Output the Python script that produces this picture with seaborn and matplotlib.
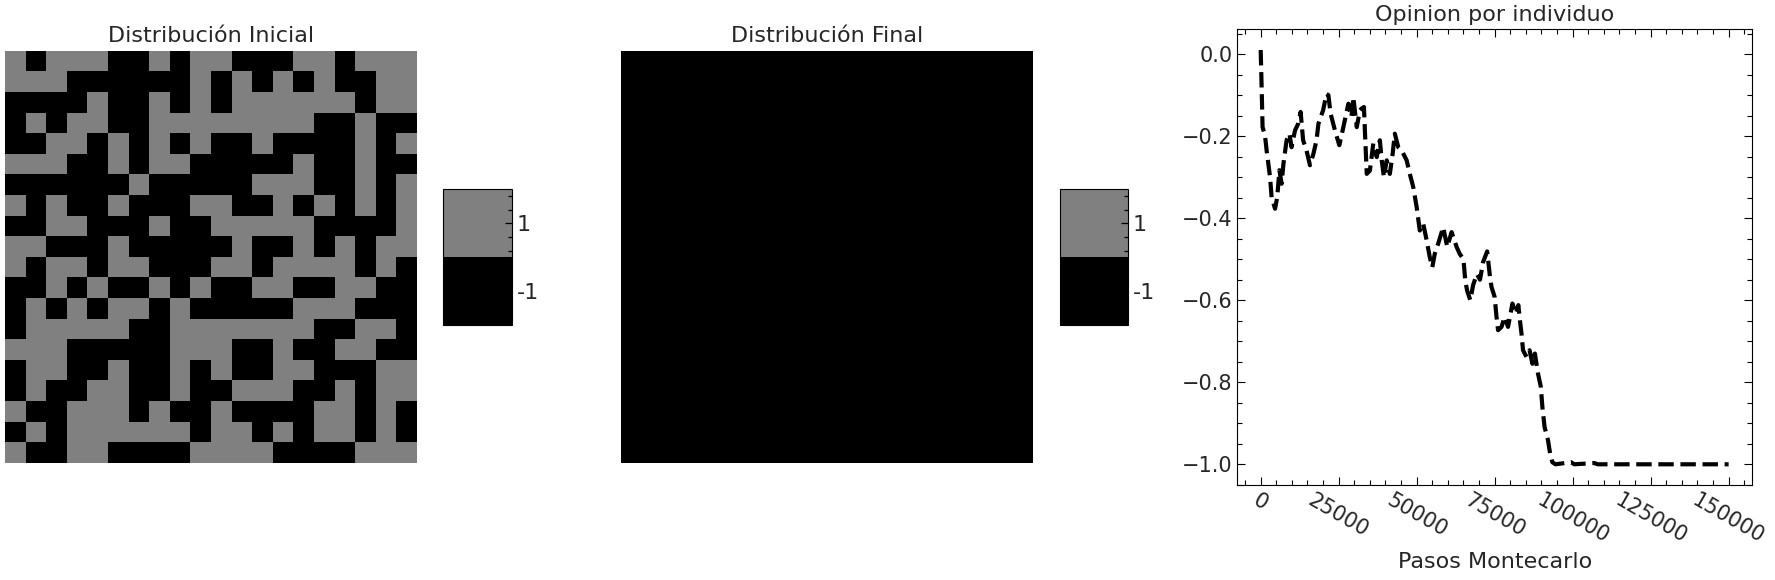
import numpy as np
import pandas as pd
import matplotlib
matplotlib.use("Agg")
import matplotlib.pyplot as plt
from matplotlib.colors import ListedColormap
from matplotlib.ticker import AutoMinorLocator
import seaborn as sns

# Data ===================================================================================================
# initial spin grid, 1 = gray, -1 = black (rows from top)
initial_rows = [
    "GBGGGBBGBGGBBBGGBGGG",
    "GGGBBBBBBGBGBGBGBBGG",
    "BBBBGBBGBGBGGGGGGBGG",
    "BGBGGBBGGGGGGGGBBGBB",
    "BBGGBGBGBGBBGBBBBGBG",
    "GGGBBGBGGBBBBBGBBGBB",
    "BBBBBBGBBBBBGGGBBGBG",
    "GBGBBGBBBGGBBGBGBGBG",
    "BBGGBBBGBBGGGGGBBBBG",
    "GGBBBGBBBBBGBBGBGBGG",
    "GBGGBGGBBBGGBGGGGBGB",
    "BBGBGBBGBGBBGGBBGGBB",
    "BGBGBGGBGBBBBBGGGBBB",
    "BGGGGGBBGGGGGGGBBGGB",
    "GGGBBBBBGGGBBGBBGGBB",
    "BGGBBGBBGBGBBGGBBBGG",
    "BGBBGGBBGBBGGGBBGBGG",
    "GBBGGGBGBBGBBBBGGBGB",
    "BGBGGGGGGBGGBGBGGBGB",
    "GBBGGBBBBGGGGBBBBGGG",
]
initial_grid = np.array([[1 if c == "G" else -1 for c in row] for row in initial_rows])
final_grid = -np.ones((20, 20), dtype=int)

# mean opinion vs Monte Carlo steps
steps = [0, 300, 600, 1400, 1900, 3000, 3500, 4600, 5300, 6000, 6700, 7300, 8300, 9200, 9900,
         11000, 12000, 12800, 13600, 14700, 15800, 16900, 17900, 18500, 20000, 21100, 21700,
         22400, 23800, 25200, 26500, 28100, 29100, 29700, 30800, 31800, 32300, 33100, 33400,
         34000, 35000, 36100, 37200, 38200, 38800, 39500, 40400, 41400, 42300, 43000, 44100,
         45200, 46800, 47800, 48900, 50000, 51000, 52100, 53200, 54200, 55000, 55800, 56900,
         58500, 59800, 61200, 62800, 63800, 65000, 65600, 66200, 67200, 68100, 69300, 70300,
         71300, 72600, 73500, 74000, 75000, 75600, 76100, 77200, 78200, 79300, 80700, 81800,
         82600, 83100, 83600, 84100, 85200, 86200, 87100, 87900, 88900, 89800, 90300, 91000,
         92100, 92800, 93500, 94500, 99500, 100500, 107000, 108000, 120000, 135000, 150000]
opinion = [0.01, -0.08, -0.178, -0.2, -0.235, -0.3, -0.349, -0.377, -0.349, -0.283, -0.316,
           -0.267, -0.21, -0.194, -0.227, -0.186, -0.17, -0.141, -0.21, -0.235, -0.271, -0.243,
           -0.21, -0.17, -0.137, -0.097, -0.1, -0.145, -0.186, -0.222, -0.178, -0.121, -0.153,
           -0.105, -0.178, -0.137, -0.133, -0.129, -0.186, -0.292, -0.284, -0.218, -0.251,
           -0.21, -0.259, -0.3, -0.259, -0.292, -0.243, -0.194, -0.227, -0.235, -0.259, -0.292,
           -0.324, -0.373, -0.43, -0.413, -0.454, -0.495, -0.52, -0.487, -0.462, -0.422, -0.47,
           -0.434, -0.47, -0.487, -0.5, -0.554, -0.577, -0.6, -0.563, -0.536, -0.55, -0.507,
           -0.481, -0.543, -0.568, -0.592, -0.641, -0.673, -0.665, -0.641, -0.665, -0.608,
           -0.633, -0.612, -0.649, -0.681, -0.722, -0.738, -0.722, -0.755, -0.73, -0.779,
           -0.811, -0.86, -0.909, -0.941, -0.975, -0.995, -1.0, -0.995, -1.0, -0.997, -1.0,
           -1.0, -1.0, -1.0]

colorbar_ticks = [-0.5, 0.5]
colorbar_labels = ["-1", "1"]

# Plot ===================================================================================================
sns.set_style("white")
plt.rcParams["font.family"] = ["DejaVu Sans"]

W, H = 1775, 580
fig = plt.figure(figsize=(W / 100, H / 100), dpi=100)

def px_axes(x0, y0, x1, y1):
    # pixel box (top-left origin) -> figure axes
    return fig.add_axes([x0 / W, 1 - y1 / H, (x1 - x0) / W, (y1 - y0) / H])

cmap = ListedColormap(["black", "gray"])

panels = [
    (initial_grid, "Distribución Inicial", (5, 50.7, 417, 462.7), (443.3, 189.3, 511.7, 325.3)),
    (final_grid, "Distribución Final", (621.3, 50.7, 1033.3, 462.7), (1059.6, 189.3, 1128, 325.3)),
]
for grid, title, box, cbox in panels:
    ax = px_axes(*box)
    cax = px_axes(*cbox)
    sns.heatmap(grid, ax=ax, cbar_ax=cax, cmap=cmap, vmin=-1, vmax=1,
                xticklabels=False, yticklabels=False, square=False)
    ax.set_title(title, fontsize=16)
    cbar = ax.collections[0].colorbar
    cbar.set_ticks(colorbar_ticks)
    cbar.set_ticklabels(colorbar_labels)
    cbar.minorticks_on()
    cbar.ax.yaxis.set_minor_locator(AutoMinorLocator(5))
    # seaborn's style puts the axis below the colour mesh; ticks point inward so bring them up
    cbar.ax.set_axisbelow(False)
    cbar.ax.tick_params(which="both", direction="in", right=True, left=False,
                        labelsize=16, color="black")
    cbar.ax.tick_params(which="major", length=5, width=0.9)
    cbar.ax.tick_params(which="minor", length=3, width=0.9)
    cbar.outline.set_visible(True)
    cbar.outline.set_linewidth(0.8)
    cbar.outline.set_edgecolor("black")

# Opinion line
ax3 = px_axes(1237.3, 29.3, 1752, 485)
df = pd.DataFrame({"Pasos": steps, "Opinion": opinion})
sns.lineplot(data=df, x="Pasos", y="Opinion", ax=ax3, color="black",
             linestyle="--", linewidth=3)
ax3.set_title("Opinion por individuo", fontsize=16)
ax3.set_xlabel("Pasos Montecarlo", fontsize=16)
ax3.set_ylabel("")
ax3.set_xticks([0, 25000, 50000, 75000, 100000, 125000, 150000])
ax3.set_yticks([0.0, -0.2, -0.4, -0.6, -0.8, -1.0])
ax3.xaxis.set_minor_locator(AutoMinorLocator())
ax3.yaxis.set_minor_locator(AutoMinorLocator())
ax3.tick_params(which="both", direction="in", bottom=True, left=True, top=True, right=True,
                labelsize=15, color="black")
ax3.tick_params(which="major", length=6, width=0.8)
ax3.tick_params(which="minor", length=3.5, width=0.8)
for lab in ax3.get_xticklabels():
    lab.set_rotation(-30)
for sp in ax3.spines.values():
    sp.set_visible(True)
    sp.set_color("black")
    sp.set_linewidth(0.8)

plt.savefig("out.png", dpi=100)
